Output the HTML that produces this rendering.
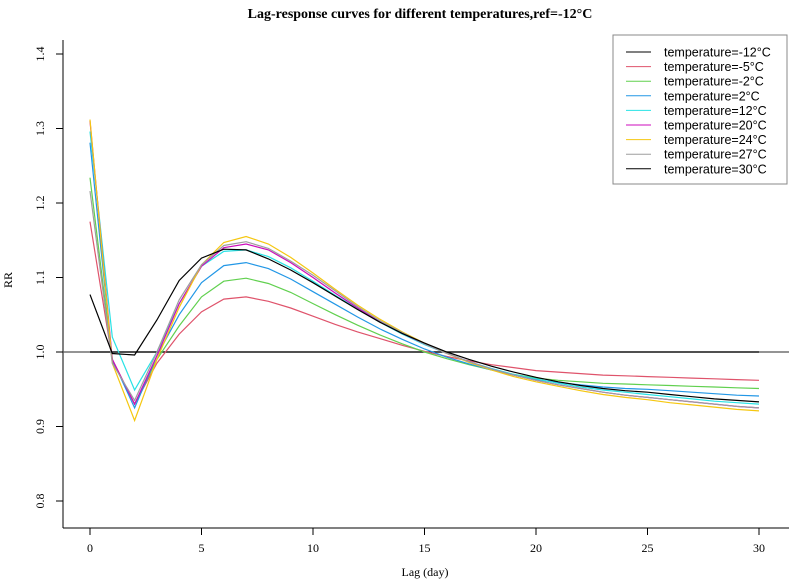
<!DOCTYPE html>
<html><head><meta charset="utf-8"><style>
html,body{margin:0;padding:0;background:#fff;}
svg{display:block;}
.t{font-family:"Liberation Serif",serif;}
.l{font-family:"Liberation Sans",sans-serif;}
</style></head><body>
<svg id="chart" width="789" height="580" viewBox="0 0 789 580" xmlns="http://www.w3.org/2000/svg">
<text class="t" x="420" y="18" text-anchor="middle" font-size="14" font-weight="bold">Lag-response curves for different temperatures,ref=-12°C</text>
<g id="axes"></g>
<g id="series"></g>
<g id="legend"></g>
<text class="t" x="425" y="576" text-anchor="middle" font-size="12">Lag (day)</text>
<text class="t" x="12" y="280" text-anchor="middle" font-size="12" transform="rotate(-90 12 280)">RR</text>
</svg>
<script>
const lags = [0,1,2,3,4,5,6,7,8,9,10,11,12,13,14,15,16,17,18,19,20,21,22,23,24,25,26,27,28,29,30];
const seriesNames = ["temperature=-12°C","temperature=-5°C","temperature=-2°C","temperature=2°C","temperature=12°C","temperature=20°C","temperature=24°C","temperature=27°C","temperature=30°C"];
const seriesColors = ["#000000","#DF536B","#61D04F","#2297E6","#28E2E5","#CD0BBC","#F5C710","#9E9E9E","#000000"];
const rrRef = [1,1,1,1,1,1,1,1,1,1,1,1,1,1,1,1,1,1,1,1,1,1,1,1,1,1,1,1,1,1,1];
const rrM5 = [1.175,0.99,0.93,0.985,1.024,1.054,1.071,1.074,1.068,1.059,1.048,1.037,1.027,1.018,1.009,1.001,0.994,0.988,0.983,0.979,0.975,0.973,0.971,0.969,0.968,0.967,0.966,0.965,0.964,0.963,0.962];
const rrM2 = [1.234,0.988,0.93,0.99,1.035,1.074,1.095,1.099,1.092,1.080,1.065,1.050,1.036,1.023,1.011,1.000,0.991,0.983,0.976,0.970,0.965,0.962,0.960,0.958,0.957,0.956,0.955,0.954,0.953,0.952,0.951];
const rrP2 = [1.281,0.99,0.925,0.995,1.05,1.093,1.116,1.120,1.112,1.098,1.081,1.064,1.047,1.031,1.017,1.004,0.993,0.984,0.976,0.969,0.963,0.959,0.956,0.953,0.951,0.950,0.948,0.946,0.944,0.942,0.941];
const rrP12 = [1.296,1.02,0.949,1.0,1.065,1.115,1.135,1.137,1.128,1.113,1.095,1.076,1.058,1.040,1.024,1.010,0.998,0.987,0.978,0.970,0.964,0.958,0.953,0.949,0.946,0.943,0.940,0.937,0.934,0.932,0.930];
const rrP20 = [1.31,0.99,0.93,0.995,1.065,1.115,1.14,1.145,1.137,1.12,1.1,1.079,1.059,1.041,1.025,1.011,0.998,0.987,0.977,0.969,0.962,0.956,0.951,0.946,0.942,0.939,0.936,0.933,0.930,0.927,0.925];
const rrP24 = [1.312,0.985,0.908,0.99,1.06,1.117,1.147,1.155,1.145,1.127,1.106,1.084,1.063,1.044,1.027,1.012,0.998,0.986,0.976,0.967,0.960,0.954,0.948,0.943,0.939,0.936,0.932,0.929,0.926,0.923,0.921];
const rrP27 = [1.216,0.985,0.935,1.0,1.07,1.117,1.143,1.148,1.139,1.122,1.103,1.082,1.061,1.042,1.026,1.011,0.998,0.987,0.977,0.969,0.962,0.956,0.951,0.946,0.942,0.939,0.936,0.933,0.930,0.927,0.925];
const rrP30 = [1.077,0.998,0.996,1.043,1.096,1.126,1.138,1.137,1.125,1.11,1.093,1.075,1.057,1.040,1.025,1.012,1.0,0.99,0.981,0.973,0.966,0.960,0.955,0.951,0.948,0.946,0.943,0.940,0.937,0.935,0.933];
const xTicks = [0,5,10,15,20,25,30];
const yTicks = [0.8,0.9,1.0,1.1,1.2,1.3,1.4];
const yTickLabels = ["0.8","0.9","1.0","1.1","1.2","1.3","1.4"];

const allSeries = [rrRef,rrM5,rrM2,rrP2,rrP12,rrP20,rrP24,rrP27,rrP30];
const NS="http://www.w3.org/2000/svg";
function xs(v){return 90+(v-0)*(759-90)/30;}
function ys(v){return 352-(v-1.0)*745;}
function mk(t,a,p){const e=document.createElementNS(NS,t);for(const k in a)e.setAttribute(k,a[k]);p.appendChild(e);return e;}
const axes=document.getElementById('axes');
let e=mk('line',{x1:63,y1:40,x2:63,y2:528,stroke:'#000','stroke-width':1},axes);


e=mk('line',{x1:63,y1:528,x2:789,y2:528,stroke:'#000','stroke-width':1},axes);


xTicks.forEach(function(v){
 const x=xs(v);
 let t=mk('line',{x1:x,y1:528,x2:x,y2:535,stroke:'#000'},axes);
 
 
 let tx=mk('text',{x:x,y:552,'text-anchor':'middle','font-size':12,class:'t'},axes);
 tx.textContent=String(v);
 
 
});
yTicks.forEach(function(v,i){
 const y=ys(v);
 let t=mk('line',{x1:56,y1:y,x2:63,y2:y,stroke:'#000'},axes);
 
 
 let tx=mk('text',{x:44,y:y,'text-anchor':'middle','font-size':12,class:'t',transform:'rotate(-90 44 '+y+')'},axes);
 tx.textContent=yTickLabels[i];
 
 
});
e=mk('line',{x1:63,y1:ys(1),x2:789,y2:ys(1),stroke:'#555','stroke-width':1.2},axes);


const sg=document.getElementById('series');
allSeries.forEach(function(s,i){
 const pts=s.map(function(v,j){return xs(lags[j]).toFixed(1)+','+ys(v).toFixed(1);}).join(' ');
 const p=mk('polyline',{points:pts,fill:'none',stroke:seriesColors[i],'stroke-width':1.2},sg);
 
 
});
const lg=document.getElementById('legend');
e=mk('rect',{x:613,y:35,width:174,height:149,fill:'#fff',stroke:'#888','stroke-width':1},lg);


seriesNames.forEach(function(n,i){
 const y=52+i*14.6;
 const g=mk('g',{},lg);
 
 
 mk('line',{x1:626,y1:y,x2:651,y2:y,stroke:seriesColors[i],'stroke-width':1},g);
 const t=mk('text',{x:664,y:y+4.5,'font-size':12.5,class:'l'},g);
 t.textContent=n;
});
</script>
</body></html>
